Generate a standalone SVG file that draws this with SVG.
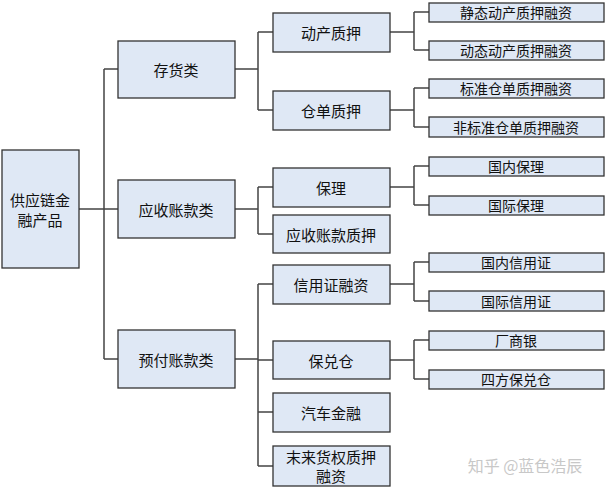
<svg xmlns="http://www.w3.org/2000/svg" width="607" height="489" viewBox="0 0 607 489">
<style>
rect{fill:#dfe8f5;stroke:#333;stroke-width:1.3}
text{font-family:"Noto Sans CJK SC","Liberation Sans",sans-serif;font-size:15px;fill:#111;text-anchor:middle;dominant-baseline:central}
.s{font-size:14px}
#connectors path{fill:none;stroke:#444;stroke-width:1.5}
</style>
<rect x="0" y="0" width="607" height="489" style="fill:#fff;stroke:none"/>
<g id="connectors">
<path d="M79 209H118M104 69V359M104 69H118M104 359H118"/>
<path d="M235 69H258M258 32V110M258 32H273M258 110H273"/>
<path d="M235 209H258M258 187V234M258 187H273M258 234H273"/>
<path d="M235 359H258M258 284V466M258 284H273M258 360H273M258 412H273M258 466H273"/>
<path d="M390 32H414M414 12V50M414 12H429M414 50H429"/>
<path d="M390 110H414M414 88V127M414 88H429M414 127H429"/>
<path d="M390 187H414M414 166V205M414 166H429M414 205H429"/>
<path d="M390 284H414M414 262V301M414 262H429M414 301H429"/>
<path d="M390 360H414M414 340V379M414 340H429M414 379H429"/>
</g>
<g id="root"><rect x="2" y="150" width="77" height="118"/><text x="40" y="199">供应链金</text><text x="40" y="219">融产品</text></g>
<g id="n-chx"><rect x="118" y="41" width="117" height="57"/><text x="176" y="69">存货类</text></g>
<g id="n-yszk"><rect x="118" y="180" width="117" height="58"/><text x="176" y="209">应收账款类</text></g>
<g id="n-yfzk"><rect x="118" y="330" width="117" height="58"/><text x="176" y="359">预付账款类</text></g>
<g id="n-dczy"><rect x="273" y="13" width="117" height="39"/><text x="331" y="32">动产质押</text></g>
<g id="n-cdzy"><rect x="273" y="91" width="117" height="39"/><text x="331" y="110">仓单质押</text></g>
<g id="n-bl"><rect x="273" y="168" width="117" height="39"/><text x="331" y="187">保理</text></g>
<g id="n-yszkzy"><rect x="273" y="215" width="117" height="38"/><text x="331" y="234">应收账款质押</text></g>
<g id="n-xyz"><rect x="273" y="265" width="117" height="39"/><text x="331" y="284">信用证融资</text></g>
<g id="n-bdc"><rect x="273" y="341" width="117" height="38"/><text x="331" y="360">保兑仓</text></g>
<g id="n-qcjr"><rect x="273" y="393" width="117" height="39"/><text x="331" y="412">汽车金融</text></g>
<g id="n-wlhq"><rect x="273" y="446" width="117" height="40"/><text x="331" y="456">末来货权质押</text><text x="331" y="475">融资</text></g>
<g id="n-jt"><rect x="429" y="3" width="175" height="19"/><text class="s" x="516" y="12">静态动产质押融资</text></g>
<g id="n-dt"><rect x="429" y="41" width="175" height="19"/><text class="s" x="516" y="50">动态动产质押融资</text></g>
<g id="n-bz"><rect x="429" y="79" width="175" height="19"/><text class="s" x="516" y="88">标准仓单质押融资</text></g>
<g id="n-fbz"><rect x="429" y="117" width="175" height="20"/><text class="s" x="516" y="127">非标准仓单质押融资</text></g>
<g id="n-gnbl"><rect x="429" y="157" width="175" height="19"/><text class="s" x="516" y="166">国内保理</text></g>
<g id="n-gjbl"><rect x="429" y="196" width="175" height="19"/><text class="s" x="516" y="205">国际保理</text></g>
<g id="n-gnxyz"><rect x="429" y="253" width="175" height="19"/><text class="s" x="516" y="262">国内信用证</text></g>
<g id="n-gjxyz"><rect x="429" y="291" width="175" height="20"/><text class="s" x="516" y="301">国际信用证</text></g>
<g id="n-csy"><rect x="429" y="331" width="175" height="19"/><text class="s" x="516" y="340">厂商银</text></g>
<g id="n-sf"><rect x="429" y="370" width="175" height="19"/><text class="s" x="516" y="379">四方保兑仓</text></g>
<text x="525" y="465" style="font-size:16px;fill:#c8c8c8">知乎 @蓝色浩辰</text>
</svg>
